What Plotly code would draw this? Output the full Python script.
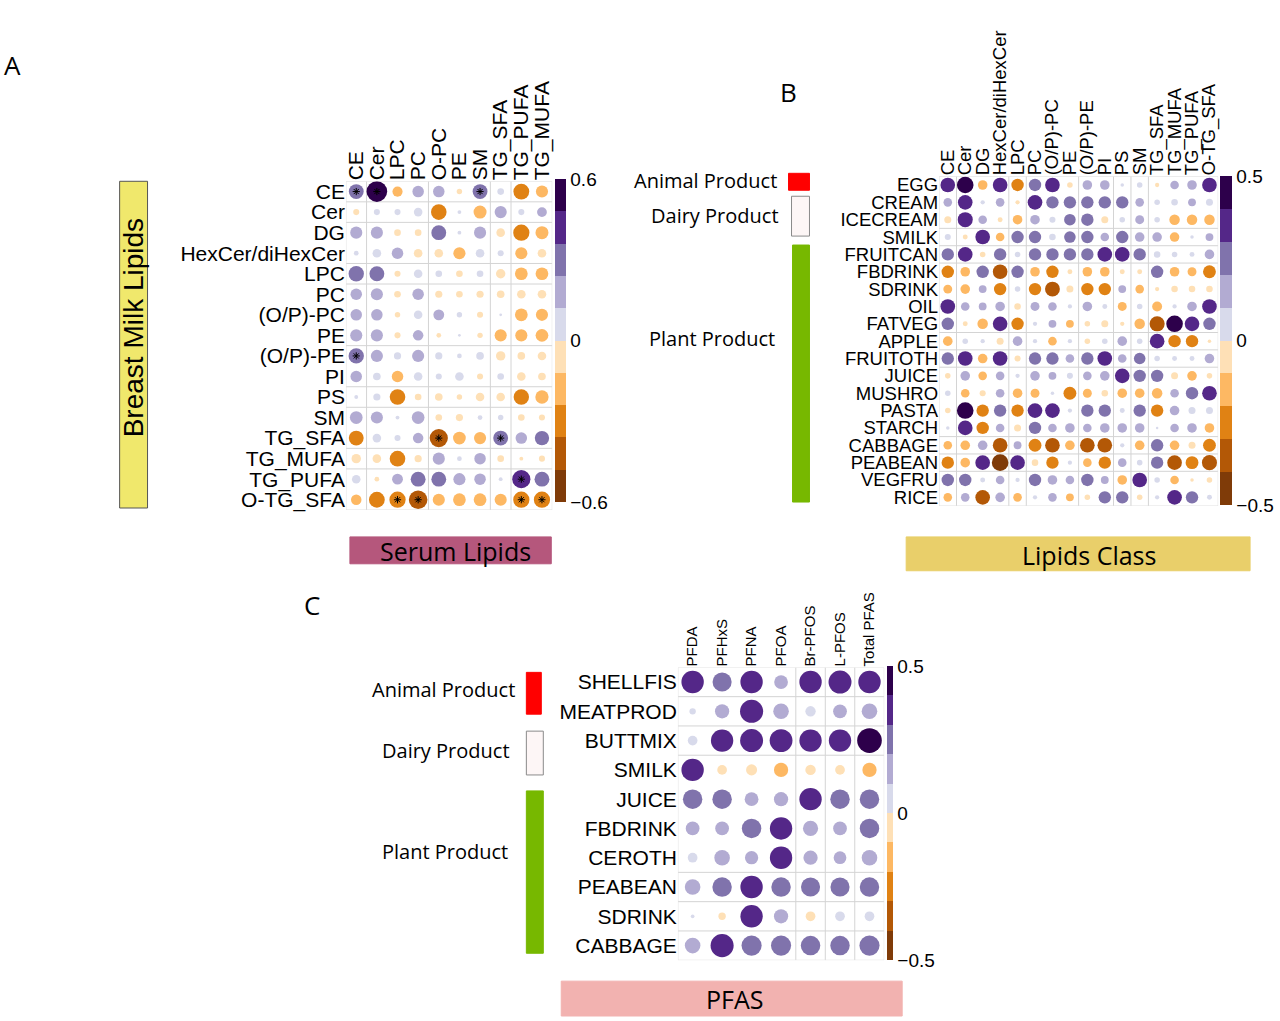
import plotly.graph_objects as go
import numpy as np

W, H = 1280, 1021

# ---------------- Panel A data ----------------
A_rows = ["CE", "Cer", "DG", "HexCer/diHexCer", "LPC", "PC", "(O/P)-PC", "PE", "(O/P)-PE",
          "PI", "PS", "SM", "TG_SFA", "TG_MUFA", "TG_PUFA", "O-TG_SFA"]
A_cols = ["CE", "Cer", "LPC", "PC", "O-PC", "PE", "SM", "TG_SFA", "TG_PUFA", "TG_MUFA"]
A_vals = [
    [0.30, 0.58, -0.14, 0.18, 0.18, -0.04, 0.30, 0.06, -0.34, -0.20],
    [-0.05, 0.05, 0.05, 0.10, -0.33, 0.02, -0.23, 0.20, 0.05, 0.13],
    [0.20, 0.20, -0.06, -0.06, 0.30, 0.02, 0.20, -0.10, -0.36, -0.23],
    [0.03, 0.10, 0.18, -0.10, -0.10, -0.20, 0.10, 0.05, -0.20, -0.10],
    [0.32, 0.30, -0.05, 0.10, 0.06, -0.06, 0.06, -0.12, -0.22, -0.22],
    [0.18, 0.20, -0.06, 0.18, -0.07, -0.06, -0.07, -0.08, -0.10, -0.10],
    [0.18, 0.18, -0.04, 0.10, 0.16, 0.04, -0.05, 0.01, -0.22, -0.20],
    [0.20, 0.20, -0.05, 0.15, -0.03, 0.01, -0.04, -0.20, -0.20, -0.22],
    [0.32, 0.20, 0.07, 0.20, 0.07, 0.03, 0.08, -0.12, -0.08, -0.10],
    [0.18, 0.08, -0.18, 0.10, 0.05, 0.10, -0.05, 0.06, -0.10, -0.08],
    [0.02, 0.07, -0.33, -0.06, -0.08, -0.04, -0.10, -0.10, -0.32, -0.24],
    [0.22, 0.20, 0.02, 0.22, -0.06, -0.07, 0.03, 0.04, -0.06, -0.05],
    [-0.30, 0.10, 0.05, 0.15, -0.45, -0.22, -0.20, 0.30, 0.18, 0.28],
    [-0.12, -0.10, -0.33, -0.07, 0.20, 0.03, 0.18, -0.06, -0.02, -0.05],
    [0.10, -0.03, 0.16, 0.30, 0.30, 0.20, 0.18, 0.02, 0.45, 0.30],
    [-0.15, -0.34, -0.36, -0.47, -0.20, -0.22, -0.22, -0.20, -0.36, -0.36],
]
A_stars = [("CE", "CE"), ("CE", "Cer"), ("CE", "SM"), ("(O/P)-PE", "CE"),
           ("TG_SFA", "O-PC"), ("TG_SFA", "TG_SFA"), ("TG_PUFA", "TG_PUFA"),
           ("O-TG_SFA", "LPC"), ("O-TG_SFA", "PC"), ("O-TG_SFA", "TG_PUFA"),
           ("O-TG_SFA", "TG_MUFA")]
A_lim = 0.6
A_ticks = [-0.6, 0, 0.6]
A_ticktext = ["\u22120.6", "0", "0.6"]

# ---------------- Panel B data ----------------
B_rows = ["EGG", "CREAM", "ICECREAM", "SMILK", "FRUITCAN", "FBDRINK", "SDRINK", "OIL", "FATVEG",
          "APPLE", "FRUITOTH", "JUICE", "MUSHRO", "PASTA", "STARCH", "CABBAGE", "PEABEAN",
          "VEGFRU", "RICE"]
B_cols = ["CE", "Cer", "DG", "HexCer/diHexCer", "LPC", "PC", "(O/P)-PC", "PE", "(O/P)-PE",
          "PI", "PS", "SM", "TG_SFA", "TG_MUFA", "TG_PUFA", "O-TG_SFA"]
B_vals = [
    [0.35, 0.45, -0.15, 0.35, -0.25, 0.25, 0.35, -0.05, 0.15, 0.15, 0.02, 0.05, -0.03, 0.12, 0.15, 0.35],
    [0.12, 0.35, 0.03, 0.12, -0.03, 0.35, 0.25, 0.25, 0.25, 0.25, 0.25, 0.12, 0.05, 0.07, 0.10, 0.08],
    [-0.08, 0.37, 0.12, -0.04, -0.15, 0.15, 0.06, 0.22, 0.25, -0.08, 0.05, 0.13, 0.05, -0.18, -0.18, -0.18],
    [0.06, -0.04, 0.35, -0.12, 0.25, 0.25, 0.07, 0.22, 0.25, 0.12, 0.25, 0.15, 0.15, -0.15, 0.02, 0.10],
    [0.25, 0.35, -0.05, 0.25, 0.05, 0.25, 0.25, 0.25, 0.25, 0.35, 0.35, 0.25, 0.07, 0.05, 0.04, 0.15],
    [-0.25, -0.15, 0.25, -0.35, 0.25, -0.15, -0.25, -0.04, -0.15, -0.15, -0.04, -0.04, 0.25, -0.15, -0.13, -0.27],
    [-0.13, -0.15, 0.10, -0.25, 0.05, -0.25, -0.36, -0.08, -0.25, -0.25, 0.10, -0.12, -0.03, -0.07, -0.07, -0.07],
    [0.35, 0.12, 0.10, 0.15, -0.07, 0.13, 0.12, 0.03, 0.15, 0.04, -0.13, 0.05, -0.16, 0.03, 0.15, 0.35],
    [0.25, -0.04, -0.18, 0.35, -0.25, 0.03, 0.10, -0.10, -0.05, -0.08, -0.03, -0.18, -0.37, 0.45, 0.35, 0.25],
    [-0.15, 0.05, 0.03, -0.08, 0.15, 0.03, -0.12, 0.03, -0.05, 0.05, 0.15, 0.05, 0.35, -0.25, -0.25, -0.02],
    [0.25, 0.35, -0.15, 0.35, -0.06, 0.25, 0.25, 0.12, 0.25, 0.35, 0.12, 0.22, 0.05, 0.04, 0.04, 0.15],
    [-0.05, 0.15, -0.12, 0.12, 0.03, 0.15, 0.10, 0.06, 0.12, 0.15, 0.35, 0.25, 0.25, -0.08, -0.15, -0.05],
    [0.05, -0.12, -0.06, 0.12, -0.15, -0.13, 0.02, -0.27, -0.13, -0.07, -0.15, -0.15, -0.18, 0.12, 0.25, 0.35],
    [-0.05, 0.45, -0.25, 0.25, -0.25, 0.35, 0.35, 0.03, 0.25, 0.25, 0.04, 0.25, -0.25, 0.15, 0.08, 0.08],
    [0.02, 0.35, -0.25, 0.12, -0.08, 0.25, 0.12, 0.15, 0.12, 0.15, 0.15, 0.15, 0.01, 0.12, 0.15, -0.15],
    [-0.12, -0.15, 0.15, -0.35, 0.10, -0.27, -0.35, -0.15, -0.35, -0.35, 0.03, -0.15, 0.25, -0.15, -0.08, -0.27],
    [-0.25, -0.15, 0.35, -0.45, 0.35, -0.07, -0.25, 0.03, -0.12, -0.25, 0.12, 0.05, 0.25, -0.35, -0.27, -0.37],
    [0.25, 0.25, 0.04, 0.12, 0.03, 0.25, 0.15, 0.12, 0.25, 0.10, -0.15, 0.35, 0.05, -0.12, -0.02, -0.05],
    [-0.12, 0.12, -0.35, 0.15, -0.12, 0.03, 0.12, -0.10, -0.05, 0.25, 0.25, -0.05, 0.03, 0.35, 0.25, 0.04],
]
B_lim = 0.5
B_ticks = [-0.5, 0, 0.5]
B_ticktext = ["\u22120.5", "0", "0.5"]

# ---------------- Panel C data ----------------
C_rows = ["SHELLFIS", "MEATPROD", "BUTTMIX", "SMILK", "JUICE", "FBDRINK", "CEROTH",
          "PEABEAN", "SDRINK", "CABBAGE"]
C_cols = ["PFDA", "PFHxS", "PFNA", "PFOA", "Br-PFOS", "L-PFOS", "Total PFAS"]
C_vals = [
    [0.37, 0.27, 0.37, 0.14, 0.37, 0.39, 0.37],
    [0.03, 0.15, 0.395, 0.18, 0.08, 0.14, 0.18],
    [0.07, 0.37, 0.39, 0.385, 0.37, 0.37, 0.45],
    [0.37, -0.07, -0.09, -0.15, -0.08, -0.07, -0.15],
    [0.28, 0.28, 0.14, 0.15, 0.37, 0.28, 0.28],
    [0.14, 0.14, 0.28, 0.37, 0.17, 0.14, 0.28],
    [0.07, 0.18, 0.13, 0.37, 0.15, 0.12, 0.18],
    [0.18, 0.28, 0.37, 0.28, 0.27, 0.27, 0.28],
    [0.01, -0.04, 0.37, 0.15, -0.07, 0.07, 0.07],
    [0.18, 0.395, 0.30, 0.30, 0.28, 0.28, 0.30],
]
C_lim = 0.5

PUOR = ["#7F3B08", "#B35806", "#E08214", "#FDB863", "#FEE0B6",
        "#D8DAEB", "#B2ABD2", "#8073AC", "#542788", "#2D004B"]


def discrete_scale(colors):
    n = len(colors)
    cs = []
    for i, c in enumerate(colors):
        cs.append([i / n, c])
        cs.append([(i + 1) / n, c])
    return cs


CS = discrete_scale(PUOR)


def px(x):
    return x / W


def py(y):
    return 1 - y / H


TICKFONT = "Liberation Sans, Arial, sans-serif"
LABFONT = "Open Sans, Liberation Sans, sans-serif"

fig = go.Figure()


def add_panel(rows, cols, vals, lim, maxd, xa, ya, cb):
    xs, ys, cs, ss = [], [], [], []
    for i, r in enumerate(rows):
        for j, c in enumerate(cols):
            v = vals[i][j]
            xs.append(c)
            ys.append(r)
            cs.append(v)
            ss.append(maxd * np.sqrt(min(abs(v), lim) / lim))
    fig.add_trace(go.Scatter(
        x=xs, y=ys, mode="markers", xaxis=xa, yaxis=ya, hoverinfo="x+y",
        marker=dict(size=ss, color=cs, colorscale=CS, cmin=-lim, cmax=lim, opacity=1,
                    line=dict(width=0), showscale=True, colorbar=cb),
        showlegend=False))


def cbar(x0, y0, y1, thick, ticks, ticktext):
    return dict(x=px(x0), xanchor="left", y=py(y0), yanchor="top",
                len=(y1 - y0) / H, lenmode="fraction", thickness=thick,
                xpad=0, ypad=0, outlinewidth=0, tickvals=ticks, ticktext=ticktext,
                ticks="", tickfont=dict(size=19, family=TICKFONT, color="black"))


add_panel(A_rows, A_cols, A_vals, A_lim, 21, "x", "y",
          cbar(555, 178, 502, 11, A_ticks, A_ticktext))
add_panel(B_rows, B_cols, B_vals, B_lim, 17.5, "x2", "y2",
          cbar(1222, 175, 505, 12, B_ticks, B_ticktext))
add_panel(C_rows, C_cols, C_vals, C_lim, 26, "x3", "y3",
          cbar(888, 667, 962, 6, B_ticks, B_ticktext))

# significance stars (panel A)
fig.add_trace(go.Scatter(
    x=[s[1] for s in A_stars], y=[s[0] for s in A_stars], mode="markers",
    xaxis="x", yaxis="y", hoverinfo="skip", showlegend=False,
    marker=dict(symbol="asterisk-open", size=6, color="black", opacity=1,
                line=dict(width=1, color="black"))))


def axes(rows, cols, xd, yd, fx, fy, fxsize, fysize):
    xa = dict(domain=[px(xd[0]), px(xd[1])], type="category", categoryorder="array",
              categoryarray=cols, range=[-0.5, len(cols) - 0.5], side="top", tickangle=-90,
              tickmode="array", tickvals=cols, ticktext=cols,
              showgrid=False, zeroline=False, showline=False, ticks="",
              tickfont=dict(size=fxsize, family=fx, color="black"), fixedrange=True)
    ya = dict(domain=[py(yd[1]), py(yd[0])], type="category", categoryorder="array",
              categoryarray=rows, range=[len(rows) - 0.5, -0.5], showgrid=False,
              tickmode="array", tickvals=rows, ticktext=rows,
              zeroline=False, showline=False, ticks="",
              tickfont=dict(size=fysize, family=fy, color="black"), fixedrange=True)
    return xa, ya


xa1, ya1 = axes(A_rows, A_cols, (345, 552), (180, 510), TICKFONT, TICKFONT, 21, 21)
xa2, ya2 = axes(B_rows, B_cols, (940, 1220), (175, 506), TICKFONT, TICKFONT, 18.5, 18.5)
xa3, ya3 = axes(C_rows, C_cols, (678, 885), (668, 962), TICKFONT, TICKFONT, 15, 21)
ya1["anchor"] = "x"; xa1["anchor"] = "y"
xa2["anchor"] = "y2"; ya2["anchor"] = "x2"
xa3["anchor"] = "y3"; ya3["anchor"] = "x3"

shapes = []
GRID = "#d4d4d4"


def grid_lines(xr, yr, nc, nr, vks, hks):
    for k in vks:
        shapes.append(dict(type="line", xref=xr, yref=yr, x0=k - 0.5, x1=k - 0.5,
                           y0=-0.5, y1=nr - 0.5, line=dict(color=GRID, width=1), layer="below"))
    for k in hks:
        shapes.append(dict(type="line", xref=xr, yref=yr, y0=k - 0.5, y1=k - 0.5,
                           x0=-0.5, x1=nc - 0.5, line=dict(color=GRID, width=1), layer="below"))
    shapes.append(dict(type="rect", xref=xr, yref=yr, x0=-0.5, x1=nc - 0.5, y0=-0.5,
                       y1=nr - 0.5, line=dict(color="#e0e0e0", width=1), layer="below"))


grid_lines("x", "y", len(A_cols), len(A_rows), [1, 4, 7, 8], [1, 2, 4, 5, 8, 10, 11, 13, 14])
grid_lines("x2", "y2", len(B_cols), len(B_rows), [1, 4, 5, 8, 10, 11, 12], [3, 4, 5, 9, 10, 11, 15, 16, 17])
grid_lines("x3", "y3", len(C_cols), len(C_rows), [4, 5, 6], [1, 2, 3, 7, 8, 9])


def prect(x0, y0, x1, y1, fill, line=None):
    shapes.append(dict(type="rect", xref="paper", yref="paper", x0=px(x0), x1=px(x1),
                       y0=py(y1), y1=py(y0), fillcolor=fill,
                       line=dict(color=line if line else fill, width=1)))


prect(118, 180, 146, 508, "#F0E86C", "#555555")
prect(349, 537, 551, 564, "#B5577C")
prect(907, 537, 1252, 571, "#E9CF6A")
prect(561, 983, 903, 1018, "#F2B2B0")
prect(789, 172, 810, 189, "#FF0000")
prect(792, 195, 810, 235, "#FDF6F6", "#8A8A8A")
prect(793, 244, 810, 502, "#77B800")
prect(526, 673, 541, 715, "#FF0000")
prect(526, 732, 543, 776, "#FDF6F6", "#8A8A8A")
prect(526, 792, 543, 955, "#77B800")

annotations = []


def ann(text, x, y, size, xanchor="center", family=LABFONT, angle=0):
    annotations.append(dict(text=text, x=px(x), y=py(y), xref="paper", yref="paper",
                            xanchor=xanchor, yanchor="middle", showarrow=False,
                            textangle=angle, font=dict(size=size, family=family, color="black")))


ann("A", 0, 63, 26, "left")
ann("B", 778, 90, 26, "left")
ann("C", 301, 605, 26, "left")
ann("Breast Milk Lipids", 132, 327, 28, family=TICKFONT, angle=-90)
ann("Serum Lipids", 455, 551, 25)
ann("Lipids Class", 1090, 555, 25)
ann("PFAS", 735, 1001, 25)
ann("Animal Product", 779, 179, 20, "right")
ann("Dairy Product", 781, 214, 20, "right")
ann("Plant Product", 777, 338, 20, "right")
ann("Animal Product", 517, 690, 20, "right")
ann("Dairy Product", 512, 751, 20, "right")
ann("Plant Product", 510, 853, 20, "right")

fig.update_layout(
    width=W, height=H, margin=dict(l=0, r=0, t=0, b=0),
    paper_bgcolor="white", plot_bgcolor="white",
    xaxis=xa1, yaxis=ya1, xaxis2=xa2, yaxis2=ya2, xaxis3=xa3, yaxis3=ya3,
    shapes=shapes, annotations=annotations, showlegend=False,
    font=dict(family=TICKFONT, color="black"),
)

fig.write_html("out.html", config={"displayModeBar": False},
               post_script="document.body.style.margin='0px';document.body.style.padding='0px';")
